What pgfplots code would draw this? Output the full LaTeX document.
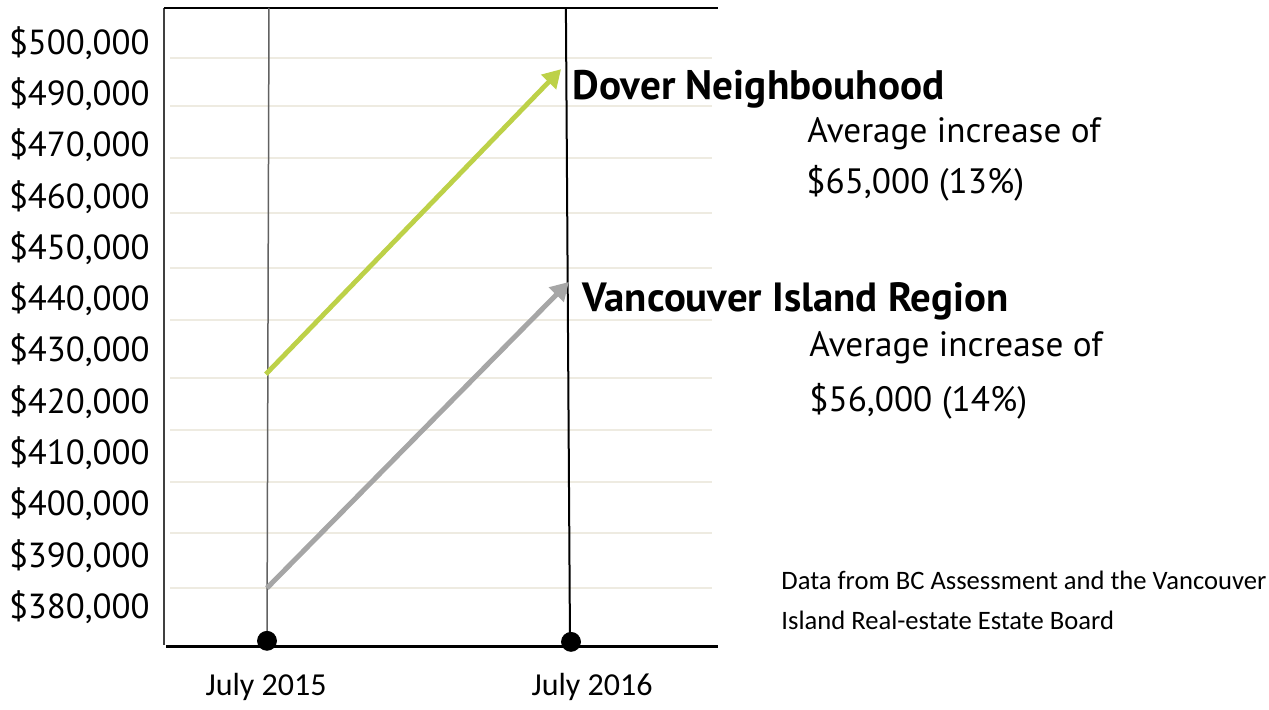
\documentclass[border=0pt]{standalone}
\usepackage{pgfplots}
\pgfplotsset{compat=1.18}
\usepackage{fontspec}
\setmainfont{PT Sans}
\newfontfamily\calibri{Carlito}
\usetikzlibrary{arrows.meta}
\definecolor{dovergreen}{HTML}{BDD148}
\definecolor{islandgray}{HTML}{A6A6A6}
\definecolor{gridbeige}{HTML}{EEEBE1}
\begin{document}
\begin{tikzpicture}
\useasboundingbox (0,0) rectangle (634.5pt,355pt);
\begin{axis}[
    at={(82pt,31.5pt)}, anchor=south west,
    scale only axis, width=277pt, height=319.5pt,
    xmin=-0.3422, xmax=1.4983,
    ymin=372.2, ymax=496.83,
    axis line style={draw=none},
    major tick length=0pt,
    xtick={-0.003,1.08},
    xticklabels={July 2015, July 2016},
    xticklabel style={font=\calibri\fontsize{16}{18}\selectfont, anchor=base, inner sep=0pt, yshift=-24.5pt},
    ytick={380,390,...,490},
    yticklabels={{\$380,000},{\$390,000},{\$400,000},{\$410,000},{\$420,000},{\$430,000},
                 {\$440,000},{\$450,000},{\$460,000},{\$470,000},{\$490,000},{\$500,000}},
    yticklabel style={font=\fontsize{17.4}{20}\selectfont, anchor=east, inner sep=0pt, xshift=-7pt},
    clip=false,
]
% light gridlines, not lined up with the labels
\pgfplotsinvokeforeach{487.1,477.7,467.6,456.8,446.1,436.0,424.7,414.5,404.4,394.4,383.7}{
    \draw[gridbeige, line width=1pt] (axis cs:-0.322,#1) -- (axis cs:1.478,#1);
}
% frame
\draw[black!75, line width=1pt] (rel axis cs:0,1) -- (rel axis cs:0,0.003);
\draw[black, line width=1.25pt] (rel axis cs:0,1) -- (rel axis cs:1,1);
\draw[black, line width=1.5pt] (rel axis cs:0.004,0) -- (rel axis cs:1,0);
% year lines
\addplot[color=black!62, line width=0.75pt] coordinates {(0.0066,496.83) (0,373.4)};
\addplot[black, line width=1pt] coordinates {(0.993,496.83) (1.0066,373.2)};
% series
\addplot[dovergreen, line width=2.4pt, -{Triangle[length=9pt,width=10pt]}] coordinates {(-0.004,425.4) (0.977,484.9)};
\addplot[islandgray, line width=2.5pt, -{Triangle[length=9pt,width=10pt]}] coordinates {(0,383.7) (1.003,443.4)};
\addplot[only marks, mark=*, mark size=4.75pt, black] coordinates {(0,373.4) (1.01,373.2)};
\end{axis}
\begin{scope}[x=0.5pt, y=-0.5pt, yshift=355pt]
\node[anchor=base west, inner sep=0pt, font=\bfseries\fontsize{20.6}{22}\selectfont] at (572,100) {Dover Neighbouhood};
\node[anchor=base west, inner sep=0pt, font=\fontsize{17.6}{20}\selectfont] at (807,143) {Average increase of};
\node[anchor=base west, inner sep=0pt, font=\fontsize{17.6}{20}\selectfont] at (806,194) {\$65,000 (13\%)};
\node[anchor=base west, inner sep=0pt, font=\bfseries\fontsize{20.4}{22}\selectfont] at (582,312) {Vancouver Island Region};
\node[anchor=base west, inner sep=0pt, font=\fontsize{17.6}{20}\selectfont] at (809,357) {Average increase of};
\node[anchor=base west, inner sep=0pt, font=\fontsize{17.6}{20}\selectfont] at (809,412) {\$56,000 (14\%)};
\node[anchor=base west, inner sep=0pt, font=\calibri\fontsize{13.3}{15}\selectfont] at (781,590) {Data from BC Assessment and the Vancouver};
\node[anchor=base west, inner sep=0pt, font=\calibri\fontsize{13.3}{15}\selectfont] at (781,630) {Island Real-estate Estate Board};
\end{scope}
\end{tikzpicture}
\end{document}
